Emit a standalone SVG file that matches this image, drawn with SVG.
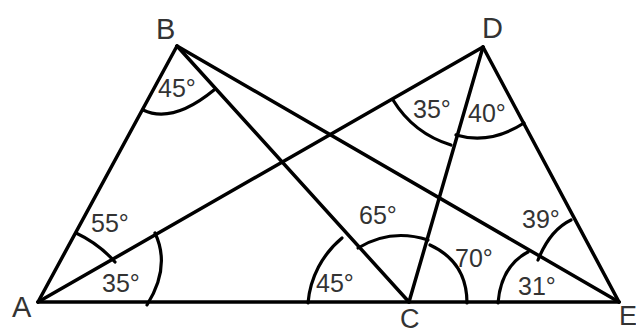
<svg xmlns="http://www.w3.org/2000/svg" width="636" height="335" viewBox="0 0 636 335">
<style>
.ln{stroke:#000;stroke-width:3.5;fill:none;stroke-linecap:round;stroke-linejoin:round}
.arc{stroke:#000;stroke-width:3.2;fill:none;stroke-linecap:round}
.pt{font-family:"Liberation Sans",Arial,sans-serif;font-size:29px;fill:#333}
.ang{font-family:"Liberation Sans",Arial,sans-serif;font-size:25px;fill:#333}
</style>
<rect width="636" height="335" fill="#fff"/>
<g id="connectors">
<line class="ln" x1="38" y1="302" x2="619" y2="302"/>
<line class="ln" x1="38" y1="302" x2="177" y2="46"/>
<line class="ln" x1="38" y1="302" x2="483" y2="47"/>
<line class="ln" x1="177" y1="46" x2="409" y2="302"/>
<line class="ln" x1="177" y1="46" x2="619" y2="302"/>
<line class="ln" x1="483" y1="47" x2="409" y2="302"/>
<line class="ln" x1="483" y1="47" x2="619" y2="302"/>
</g>
<g id="A"><text class="pt" x="12" y="317">A</text></g>
<g id="B"><text class="pt" x="156" y="39">B</text></g>
<g id="C"><text class="pt" x="400" y="328" style="font-size:27px">C</text></g>
<g id="D"><text class="pt" x="482" y="38">D</text></g>
<g id="E"><text class="pt" x="619" y="325" style="font-size:27px">E</text></g>
<g id="angle-B">
<path class="arc" d="M143,110 Q172.5,124 214,90"/>
<text class="ang" x="158" y="97">45°</text>
</g>
<g id="angle-D-left">
<path class="arc" d="M393,100 A104,104 0 0 0 451,145"/>
<text class="ang" x="413" y="118">35°</text>
</g>
<g id="angle-D-right">
<path class="arc" d="M456,135 Q490,145 524,123"/>
<text class="ang" x="468" y="122">40°</text>
</g>
<g id="angle-A-top">
<path class="arc" d="M76,233 Q98.5,243.5 115,262"/>
<text class="ang" x="91" y="232">55°</text>
</g>
<g id="angle-A-bottom">
<path class="arc" d="M155,233 Q171,267 147,305"/>
<text class="ang" x="102" y="292">35°</text>
</g>
<g id="angle-C-left">
<path class="arc" d="M308,303 A95,95 0 0 1 342,238"/>
<text class="ang" x="316" y="292">45°</text>
</g>
<g id="angle-C-mid">
<path class="arc" d="M358,248 Q391,228 428,240"/>
<text class="ang" x="359" y="224">65°</text>
</g>
<g id="angle-C-right">
<path class="arc" d="M430,245 Q467,262 467,303"/>
<text class="ang" x="455" y="267">70°</text>
</g>
<g id="angle-E-top">
<path class="arc" d="M538,260 Q550,230 571,220"/>
<text class="ang" x="522" y="228">39°</text>
</g>
<g id="angle-E-bottom">
<path class="arc" d="M498,303 Q501,266 528,252"/>
<text class="ang" x="518" y="295">31°</text>
</g>
</svg>
